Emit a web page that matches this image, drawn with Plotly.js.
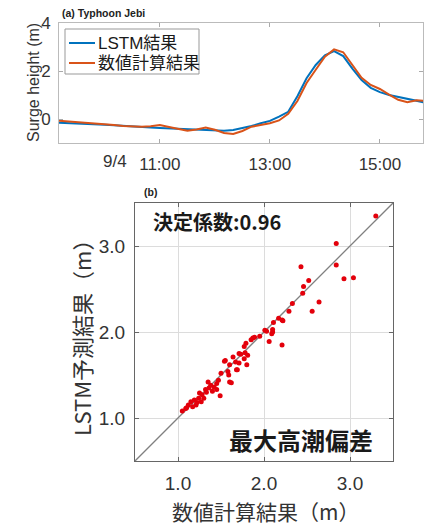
<!DOCTYPE html>
<html>
<head>
<meta charset="utf-8">
<script src="https://cdn.plot.ly/plotly-3.0.1.min.js"></script>
<style>html,body{margin:0;padding:0;background:#fff;}#chart{width:424px;height:525px;}</style>
</head>
<body>
<div id="chart"></div>
<script>
// ---- (a) time series: Typhoon Jebi, 2018-09-04 ----
const seriesNames = ["LSTM結果", "数値計算結果"];
const seriesColors = ["#0072BD", "#D95319"];
const times = ["09:10","09:20","09:30","09:40","09:50","10:00","10:10","10:20","10:30","10:40","10:50",
  "11:00","11:10","11:20","11:30","11:40","11:50","12:00","12:10","12:20","12:30","12:40","12:50",
  "13:00","13:10","13:20","13:30","13:40","13:50","14:00","14:10","14:20","14:30","14:40","14:50",
  "15:00","15:10","15:20","15:30","15:40","15:50"];
const lstmSurge = [-0.16,-0.17,-0.18,-0.20,-0.22,-0.24,-0.26,-0.29,-0.31,-0.33,-0.35,
  -0.37,-0.39,-0.41,-0.43,-0.45,-0.47,-0.48,-0.49,-0.46,-0.39,-0.29,-0.18,
  -0.08,0.10,0.30,0.95,1.70,2.25,2.65,2.83,2.62,2.10,1.62,1.30,
  1.12,1.00,0.92,0.85,0.77,0.68];
const numSurge = [-0.07,-0.10,-0.12,-0.13,-0.16,-0.20,-0.25,-0.29,-0.31,-0.32,-0.30,
  -0.25,-0.33,-0.42,-0.49,-0.44,-0.36,-0.45,-0.58,-0.62,-0.50,-0.32,-0.25,
  -0.18,-0.06,0.22,0.75,1.50,2.05,2.60,2.90,2.78,2.25,1.72,1.42,
  1.25,1.02,0.80,0.70,0.78,0.75];
const timeTickVals = ["11:00","13:00","15:00"];
const timeTickText = ["11:00","13:00","15:00"];
const surgeTicks = [0, 2, 4];

// ---- (b) scatter: max storm surge, numerical vs LSTM ----
const numMax = [3.30,2.84,2.43,2.84,2.52,2.93,3.04,2.46,2.45,2.64,2.33,2.29,2.56,2.17,2.21,2.22,2.11,
  2.01,2.03,2.10,2.10,2.09,1.95,1.87,2.21,2.06,1.85,1.79,1.77,1.71,1.73,1.78,1.77,1.80,1.71,1.68,
  1.55,1.60,1.58,1.59,1.60,1.50,1.47,1.45,1.35,1.36,1.40,1.49,1.32,1.28,1.25,1.24,1.19,1.27,1.15,
  1.12,1.09,1.05,1.21,1.17,1.30,1.38,1.42,1.45,1.64,1.67,1.89,1.54,1.62,1.69,1.81,1.33,1.22,1.10];
const lstmMax = [3.35,3.03,2.76,2.78,2.60,2.62,2.63,2.53,2.45,2.35,2.33,2.24,2.24,2.16,2.14,2.13,2.11,
  2.02,2.01,2.03,2.00,1.98,1.95,1.93,1.85,1.89,1.91,1.87,1.83,1.75,1.74,1.76,1.69,1.62,1.64,1.56,
  1.67,1.62,1.54,1.50,1.42,1.52,1.44,1.40,1.42,1.35,1.31,1.26,1.33,1.27,1.29,1.23,1.21,1.19,1.19,
  1.15,1.11,1.08,1.15,1.13,1.23,1.38,1.36,1.33,1.71,1.65,1.94,1.66,1.41,1.56,1.73,1.30,1.18,1.12];
const oneToOne = [0.5, 3.5];
const scatterTicks = [1.0, 2.0, 3.0];
const scatterTickText = ["1.0", "2.0", "3.0"];

const W = 424, H = 525;
const px = v => v / W;
const py = v => (H - v) / H;
const LAT = "Liberation Sans, Arial, Noto Sans CJK JP, sans-serif";
const CJK = "Noto Sans CJK JP, Liberation Sans, sans-serif";
const day = "2018-09-04 ";

const traces = [
  {x: times.map(t => day + t), y: lstmSurge, type: "scatter", mode: "lines", name: seriesNames[0],
   line: {color: seriesColors[0], width: 2}, xaxis: "x", yaxis: "y"},
  {x: times.map(t => day + t), y: numSurge, type: "scatter", mode: "lines", name: seriesNames[1],
   line: {color: seriesColors[1], width: 2}, xaxis: "x", yaxis: "y"},
  {x: oneToOne, y: oneToOne, type: "scatter", mode: "lines",
   line: {color: "#808080", width: 1.3}, xaxis: "x2", yaxis: "y2", hoverinfo: "skip"},
  {x: numMax, y: lstmMax, type: "scatter", mode: "markers",
   marker: {color: "#e3000b", size: 5}, xaxis: "x2", yaxis: "y2"}
];

// legend box drawn as a compact frame (Plotly's legend rows are taller than the reference)
const legendRows = [43, 63];
const shapes = [
  {type: "rect", xref: "paper", yref: "paper", x0: px(65), x1: px(199), y0: py(74), y1: py(29),
   fillcolor: "#fff", line: {color: "#999", width: 1}, layer: "above"}
];
const legendAnn = [];
seriesNames.forEach((n, i) => {
  shapes.push({type: "line", xref: "paper", yref: "paper", x0: px(69), x1: px(95),
    y0: py(legendRows[i]), y1: py(legendRows[i]), line: {color: seriesColors[i], width: 2}, layer: "above"});
  legendAnn.push({text: n, xref: "paper", yref: "paper", x: px(96), y: py(legendRows[i]),
    xanchor: "left", yanchor: "middle", showarrow: false, font: {family: LAT, size: 17, color: "#1a1a1a"}});
});

const layout = {
  width: W, height: H,
  margin: {l: 0, r: 0, t: 0, b: 0},
  paper_bgcolor: "#fff", plot_bgcolor: "#fff",
  font: {family: LAT, color: "#262626"},
  showlegend: false,
  shapes: shapes,
  xaxis: {domain: [px(59), px(423)], type: "date",
    range: [day + "09:10", day + "15:47"],
    tickvals: timeTickVals.map(t => day + t), ticktext: timeTickText,
    ticks: "inside", ticklen: 4, tickcolor: "#aaa",
    showgrid: false, zeroline: false, showline: true, linecolor: "#bbb", mirror: "ticks",
    tickfont: {size: 17, color: "#333"}, ticklabelstandoff: 6, automargin: false},
  yaxis: {domain: [py(143), py(23)], range: [-1, 4], tickvals: surgeTicks,
    ticks: "inside", ticklen: 4, tickcolor: "#aaa",
    showgrid: false, zeroline: false, showline: true, linecolor: "#bbb", mirror: "ticks",
    tickfont: {size: 17, color: "#333"}, ticklabelstandoff: 4, automargin: false},
  xaxis2: {domain: [px(135), px(393)], range: [0.5, 3.5], anchor: "y2",
    tickvals: scatterTicks, ticktext: scatterTickText,
    ticks: "inside", ticklen: 4, tickcolor: "#666",
    showgrid: true, gridcolor: "#dcdcdc", gridwidth: 1, zeroline: false,
    showline: true, linecolor: "#666", mirror: "ticks",
    tickfont: {size: 19, color: "#333"}, ticklabelstandoff: 5, automargin: false},
  yaxis2: {domain: [py(461), py(203)], range: [0.5, 3.5], anchor: "x2",
    tickvals: scatterTicks, ticktext: scatterTickText,
    ticks: "inside", ticklen: 4, tickcolor: "#666",
    showgrid: true, gridcolor: "#dcdcdc", gridwidth: 1, zeroline: false,
    showline: true, linecolor: "#666", mirror: "ticks",
    tickfont: {size: 19, color: "#333"}, ticklabelstandoff: 5, automargin: false},
  annotations: legendAnn.concat([
    {text: "<b>(a) Typhoon Jebi</b>", xref: "paper", yref: "paper", x: px(60), y: py(13),
     xanchor: "left", yanchor: "middle", showarrow: false, font: {size: 10.5, color: "#222"}},
    {text: "Surge height (m)", xref: "paper", yref: "paper", x: px(34), y: py(83),
     xanchor: "center", yanchor: "middle", textangle: -90, showarrow: false,
     font: {size: 16, color: "#333"}},
    {text: "9/4", xref: "paper", yref: "paper", x: px(115), y: py(161),
     xanchor: "center", yanchor: "middle", showarrow: false, font: {size: 17, color: "#333"}},
    {text: "<b>(b)</b>", xref: "paper", yref: "paper", x: px(142), y: py(192),
     xanchor: "left", yanchor: "middle", showarrow: false, font: {size: 10.5, color: "#222"}},
    {text: "LSTM予測結果（m）", xref: "paper", yref: "paper", x: px(81), y: py(333),
     xanchor: "center", yanchor: "middle", textangle: -90, showarrow: false,
     font: {family: CJK, size: 22, color: "#333"}},
    {text: "数値計算結果（m）", xref: "paper", yref: "paper", x: px(265), y: py(511),
     xanchor: "center", yanchor: "middle", showarrow: false,
     font: {family: CJK, size: 21, color: "#333"}},
    {text: "<b>決定係数:0.96</b>", xref: "paper", yref: "paper", x: px(151), y: py(221),
     xanchor: "left", yanchor: "middle", showarrow: false,
     font: {family: CJK, size: 20, color: "#1a1a1a"}},
    {text: "<b>最大高潮偏差</b>", xref: "paper", yref: "paper", x: px(375), y: py(439),
     xanchor: "right", yanchor: "middle", showarrow: false,
     font: {family: CJK, size: 24, color: "#1a1a1a"}}
  ])
};

Plotly.newPlot("chart", traces, layout, {displayModeBar: false, staticPlot: true});
</script>
</body>
</html>
